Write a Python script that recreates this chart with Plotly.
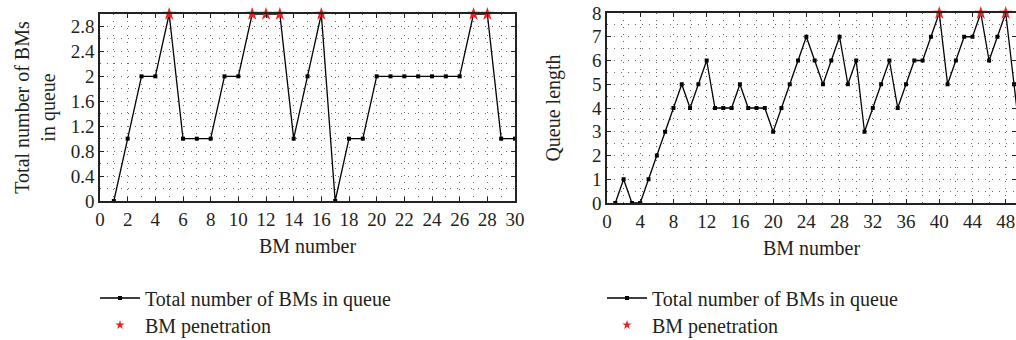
import plotly.graph_objects as go

# ---- data ----
left_x = list(range(1, 31))
left_y = [0, 1, 2, 2, 3, 1, 1, 1, 2, 2, 3, 3, 3, 1, 2, 3, 0, 1, 1, 2,
          2, 2, 2, 2, 2, 2, 3, 3, 1, 1]
left_star_x = [5, 11, 12, 13, 16, 27, 28]
left_star_y = [3, 3, 3, 3, 3, 3, 3]
left_ytick_vals = [0, 0.4, 0.8, 1.2, 1.6, 2, 2.4, 2.8]
left_ytick_text = ["0", "0.4", "0.8", "1.2", "1.6", "2", "2.4", "2.8"]

right_x = list(range(1, 51))
right_y = [0, 1, 0, 0, 1, 2, 3, 4, 5, 4, 5, 6, 4, 4, 4, 5, 4, 4, 4, 3,
           4, 5, 6, 7, 6, 5, 6, 7, 5, 6, 3, 4, 5, 6, 4, 5, 6, 6, 7, 8,
           5, 6, 7, 7, 8, 6, 7, 8, 5, 2]
right_star_x = [40, 45, 48]
right_star_y = [8, 8, 8]

series_name = "Total number of BMs in queue"
star_name = "BM penetration"

FONT = "Liberation Serif, Times New Roman, DejaVu Serif, serif"
TXT = "#231f20"
RED = "#ee2124"
W, H = 1016, 340

fig = go.Figure()

def add_panel(xs, ys, sx, sy, xa, ya, lg_line, lg_star):
    fig.add_trace(go.Scatter(x=xs, y=ys, mode="lines+markers", name=series_name,
                             line=dict(color="black", width=1.3),
                             marker=dict(symbol="square", size=4, color="black"),
                             xaxis=xa, yaxis=ya, legend=lg_line, cliponaxis=(xa != "x")))
    fig.add_trace(go.Scatter(x=sx, y=sy, mode="markers", name=star_name,
                             marker=dict(symbol="star", size=10, color=RED),
                             xaxis=xa, yaxis=ya, showlegend=False,
                             cliponaxis=False))
    # legend entry with a smaller star (no data points)
    fig.add_trace(go.Scatter(x=[None], y=[None], mode="markers", name=star_name,
                             marker=dict(symbol="star", size=7, color=RED),
                             xaxis=xa, yaxis=ya, legend=lg_star))

add_panel(left_x, left_y, left_star_x, left_star_y, "x", "y", "legend", "legend3")
add_panel(right_x, right_y, right_star_x, right_star_y, "x2", "y2", "legend2", "legend4")

GRIDC = "#666"
GDASH = "1px,6px"
axis_common = dict(showline=True, linecolor="#222", linewidth=1.5, mirror="ticks",
                   ticks="inside", ticklen=4, tickcolor="#222", zeroline=False,
                   tickfont=dict(family=FONT, size=19, color=TXT),
                   showgrid=True, gridcolor=GRIDC, gridwidth=1, griddash=GDASH,
                   automargin=False)

def minor(d):
    return dict(dtick=d, showgrid=True, gridcolor=GRIDC, griddash=GDASH)

title_font = dict(family=FONT, size=20, color=TXT)

def leg(xpx, ypx):
    return dict(x=xpx / W, y=1 - ypx / H, xanchor="left", yanchor="middle",
                font=dict(family=FONT, size=20, color=TXT), bgcolor="rgba(0,0,0,0)",
                tracegroupgap=0, itemwidth=40)

fig.update_layout(
    width=W, height=H,
    margin=dict(l=0, r=0, t=0, b=0, autoexpand=False),
    paper_bgcolor="white", plot_bgcolor="white",
    font=dict(family=FONT, color=TXT),
    xaxis=dict(domain=[100 / W, 515 / W], range=[0, 30], anchor="y",
               tickmode="linear", tick0=0, dtick=2, minor=minor(1),
               title=dict(text="BM number", font=title_font, standoff=10),
               **axis_common),
    yaxis=dict(domain=[1 - 201 / H, 1 - 14 / H], range=[0, 3], anchor="x",
               tickmode="array", tickvals=left_ytick_vals, ticktext=left_ytick_text,
               minor=dict(tick0=0, **minor(0.2)),
               title=dict(text="Total number of BMs<br>in queue", font=title_font, standoff=10),
               **axis_common),
    xaxis2=dict(domain=[607 / W, 1.0], range=[0, 49.24], anchor="y2",
                tickmode="linear", tick0=0, dtick=4, minor=minor(2),
                title=dict(text="BM number", font=title_font, standoff=10),
                **axis_common),
    yaxis2=dict(domain=[1 - 203 / H, 1 - 13 / H], range=[0, 8], anchor="x2",
                tickmode="linear", tick0=0, dtick=1, minor=minor(0.5),
                title=dict(text="Queue length", font=title_font, standoff=26),
                **axis_common),
    legend=leg(95, 298),
    legend3=leg(95, 325),
    legend2=leg(602, 298),
    legend4=leg(602, 325),
    showlegend=True,
)

fig.write_html("out.html", config={"displayModeBar": False},
               post_script="document.body.style.margin='0';document.body.style.overflow='hidden';")
